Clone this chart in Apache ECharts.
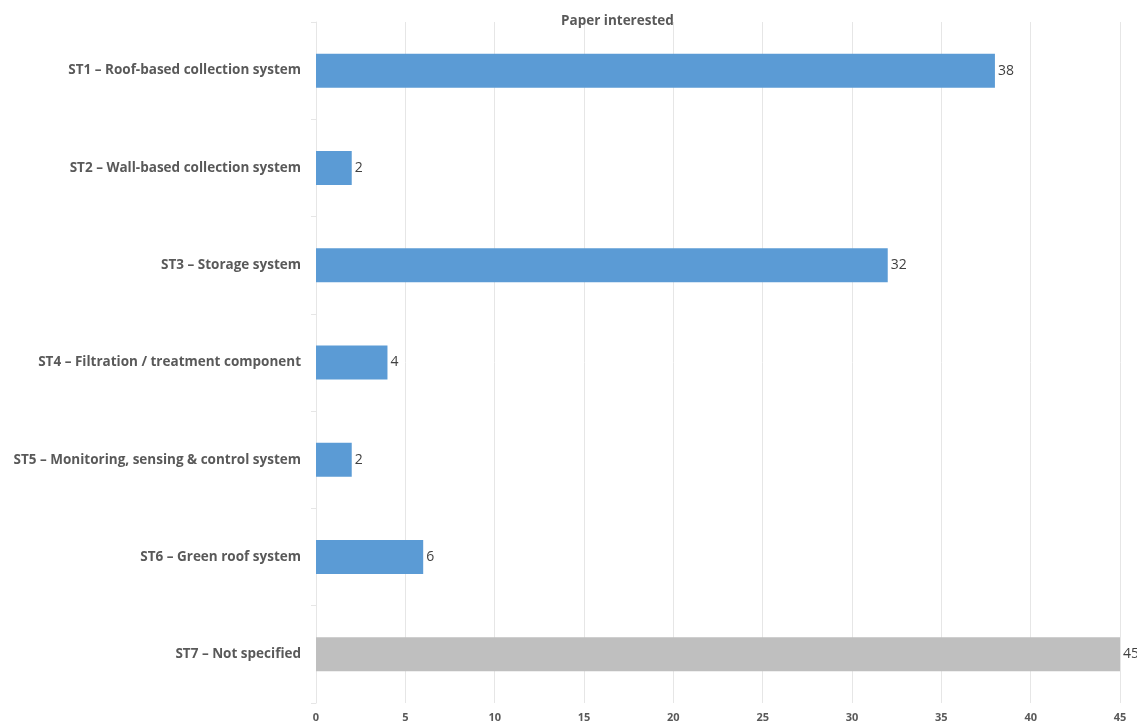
<!DOCTYPE html>
<html>
<head>
<meta charset="utf-8">
<script src="https://cdn.jsdelivr.net/npm/echarts@6/dist/echarts.min.js"></script>
<style>
html,body{margin:0;padding:0;background:#fff;}
#chart{width:1137px;height:724px;}
</style>
</head>
<body>
<div id="chart"></div>
<script>
const categories = [
  "ST1 – Roof-based collection system",
  "ST2 – Wall-based collection system",
  "ST3 – Storage system",
  "ST4 – Filtration / treatment component",
  "ST5 – Monitoring, sensing & control system",
  "ST6 – Green roof system",
  "ST7 – Not specified"
];
const values = [38, 2, 32, 4, 2, 6, 45];
const barColors = ["#5B9BD5","#5B9BD5","#5B9BD5","#5B9BD5","#5B9BD5","#5B9BD5","#BFBFBF"];
const titleText = "Paper interested";

const chart = echarts.init(document.getElementById('chart'));
const FONT = "Open Sans";
chart.setOption({
  animation: false,
  backgroundColor: '#ffffff',
  title: {
    text: titleText,
    left: 556, top: 9,
    textStyle: {fontFamily: FONT, fontSize: 13.5, fontWeight: 'bold', color: '#595959'}
  },
  grid: {left: 316, right: 17, top: 22, bottom: 21, containLabel: false},
  xAxis: {
    type: 'value', min: 0, max: 45, interval: 5,
    axisLine: {show: false},
    axisTick: {show: false},
    splitLine: {show: true, lineStyle: {color: '#E6E6E6', width: 1}},
    axisLabel: {fontFamily: FONT, fontSize: 11, fontWeight: 'bold', color: '#595959', margin: 9}
  },
  yAxis: {
    type: 'category',
    inverse: true,
    data: categories,
    axisLine: {show: true, lineStyle: {color: '#E6E6E6'}},
    axisTick: {show: true, length: 5, lineStyle: {color: '#E6E6E6'}},
    axisLabel: {fontFamily: FONT, fontSize: 13.5, fontWeight: 'bold', color: '#595959', margin: 15, padding: [3,0,0,0]}
  },
  series: [{
    type: 'bar',
    data: values.map((v, i) => ({value: v, itemStyle: {color: barColors[i]}})),
    barWidth: 34,
    label: {show: true, position: 'right', distance: 3, fontFamily: FONT, fontSize: 14, color: '#404040', padding: [3,0,0,0]}
  }]
});
</script>
</body>
</html>
